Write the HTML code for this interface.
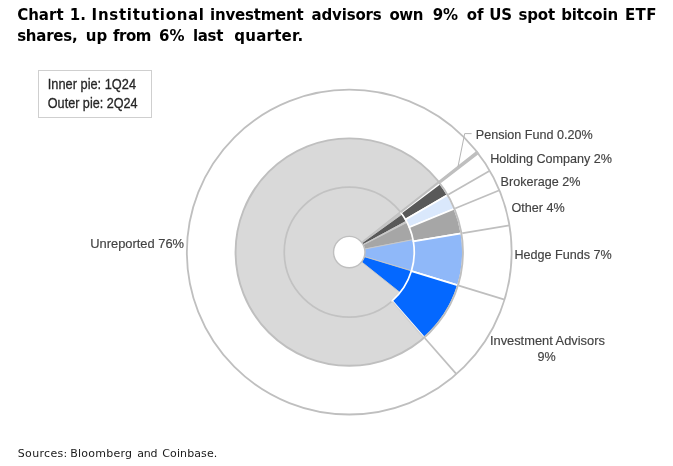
<!DOCTYPE html>
<html><head><meta charset="utf-8"><title>Chart 1</title>
<style>
html,body{margin:0;padding:0;background:#fff;}
body{width:673px;height:466px;position:relative;overflow:hidden;}
p{position:absolute;left:0;margin:0;width:673px;white-space:pre;}
p span{position:absolute;top:0;}
.title{font-family:"DejaVu Sans",Verdana,sans-serif;font-weight:bold;font-size:15px;line-height:20px;height:20px;color:#000;}
.t1{top:5px;}
.t2{top:26px;}
.src{top:446.5px;height:14px;font-family:"DejaVu Sans",Verdana,sans-serif;font-size:11px;line-height:14px;color:#1a1a1a;}
svg{position:absolute;left:0;top:0;}
</style></head><body>
<svg width="673" height="466" viewBox="0 0 673 466">
<circle cx="349.25" cy="252.1" r="162.4" fill="#fff" stroke="#bfbfbf" stroke-width="1.8"/>
<line x1="447.62" y1="195.08" x2="489.75" y2="170.65" stroke="#bfbfbf" stroke-width="1.7"/>
<line x1="454.37" y1="208.77" x2="499.40" y2="190.21" stroke="#bfbfbf" stroke-width="1.7"/>
<line x1="461.41" y1="233.43" x2="509.45" y2="225.44" stroke="#bfbfbf" stroke-width="1.7"/>
<line x1="457.98" y1="285.34" x2="504.55" y2="299.58" stroke="#bfbfbf" stroke-width="1.7"/>
<line x1="424.29" y1="337.52" x2="456.43" y2="374.11" stroke="#bfbfbf" stroke-width="1.7"/>
<path d="M476.87,151.67 A162.4,162.4 0 0 1 478.26,153.46 L439.57,183.04 A113.7,113.7 0 0 0 438.60,181.79 Z" fill="#bfbfbf" stroke="#bfbfbf" stroke-width="1.6"/>
<circle cx="349.25" cy="252.1" r="113.7" fill="#d9d9d9"/>
<circle cx="349.25" cy="252.1" r="65.0" fill="none" stroke="#c2c2c2" stroke-width="1.7"/>
<path d="M400.29,211.85 A65.0,65.0 0 0 1 402.04,214.17 L362.00,242.94 A15.7,15.7 0 0 0 361.58,242.38 Z" fill="#c6c6c6" stroke="#c8c8c8" stroke-width="0.9" stroke-linejoin="round"/>
<path d="M402.04,214.17 A65.0,65.0 0 0 1 406.43,221.18 L363.06,244.63 A15.7,15.7 0 0 0 362.00,242.94 Z" fill="#595959" stroke="#c8c8c8" stroke-width="0.9" stroke-linejoin="round"/>
<path d="M406.43,221.18 A65.0,65.0 0 0 1 407.06,222.39 L363.21,244.92 A15.7,15.7 0 0 0 363.06,244.63 Z" fill="#d0d0d0" stroke="#c8c8c8" stroke-width="0.9" stroke-linejoin="round"/>
<path d="M407.06,222.39 A65.0,65.0 0 0 1 413.06,239.70 L364.66,249.10 A15.7,15.7 0 0 0 363.21,244.92 Z" fill="#a6a6a6" stroke="#c8c8c8" stroke-width="0.9" stroke-linejoin="round"/>
<path d="M413.06,239.70 A65.0,65.0 0 0 1 411.48,270.89 L364.28,256.64 A15.7,15.7 0 0 0 364.66,249.10 Z" fill="#8fb8f9" stroke="#c8c8c8" stroke-width="0.9" stroke-linejoin="round"/>
<path d="M411.48,270.89 A65.0,65.0 0 0 1 400.12,292.56 L361.54,261.87 A15.7,15.7 0 0 0 364.28,256.64 Z" fill="#0468ff" stroke="#c8c8c8" stroke-width="0.9" stroke-linejoin="round"/>
<line x1="361.58" y1="242.38" x2="438.53" y2="181.69" stroke="#c2c2c2" stroke-width="1.2"/>
<path d="M439.94,183.52 A113.7,113.7 0 0 1 447.62,195.08 L405.48,219.50 A65.0,65.0 0 0 0 401.09,212.89 Z" fill="#595959" stroke="#fff" stroke-width="1.7" stroke-linejoin="round"/>
<path d="M447.62,195.08 A113.7,113.7 0 0 1 454.37,208.77 L409.35,227.33 A65.0,65.0 0 0 0 405.48,219.50 Z" fill="#dae8fc" stroke="#fff" stroke-width="1.7" stroke-linejoin="round"/>
<path d="M454.37,208.77 A113.7,113.7 0 0 1 461.41,233.43 L413.37,241.43 A65.0,65.0 0 0 0 409.35,227.33 Z" fill="#a6a6a6" stroke="#fff" stroke-width="1.7" stroke-linejoin="round"/>
<path d="M461.41,233.43 A113.7,113.7 0 0 1 457.98,285.34 L411.41,271.10 A65.0,65.0 0 0 0 413.37,241.43 Z" fill="#8fb8f9" stroke="#fff" stroke-width="1.7" stroke-linejoin="round"/>
<path d="M457.98,285.34 A113.7,113.7 0 0 1 424.29,337.52 L392.15,300.93 A65.0,65.0 0 0 0 411.41,271.10 Z" fill="#0468ff" stroke="#fff" stroke-width="1.7" stroke-linejoin="round"/>
<line x1="400.58" y1="212.22" x2="439.03" y2="182.33" stroke="#bfbfbf" stroke-width="1.7"/>
<line x1="392.24" y1="301.65" x2="423.77" y2="337.98" stroke="#d0d0d0" stroke-width="1.4"/>
<circle cx="349.25" cy="252.1" r="113.7" fill="none" stroke="#bfbfbf" stroke-width="1.9"/>
<circle cx="349.25" cy="252.1" r="15.7" fill="#fff" stroke="#bfbfbf" stroke-width="1.4"/>
<polyline points="471.6,133.6 464.7,133.6 458,166.6" fill="none" stroke="#b5b5b5" stroke-width="1"/>
<g font-family="'Liberation Sans', Arial, sans-serif" fill="#424242" stroke="#424242" stroke-width="0.15">
<text x="475.8" y="138.7" text-anchor="start" font-size="12.6" >Pension Fund 0.20%</text>
<text x="490.2" y="162.9" text-anchor="start" font-size="12.6" >Holding Company 2%</text>
<text x="500.6" y="185.5" text-anchor="start" font-size="12.6" >Brokerage 2%</text>
<text x="511.4" y="212.3" text-anchor="start" font-size="12.6" >Other 4%</text>
<text x="514.4" y="258.7" text-anchor="start" font-size="12.6" >Hedge Funds 7%</text>
<text x="547.4" y="345.3" text-anchor="middle" font-size="12.85" >Investment Advisors</text>
<text x="546.7" y="361.0" text-anchor="middle" font-size="12.6" >9%</text>
<text x="90.2" y="247.8" text-anchor="start" font-size="12.9" >Unreported 76%</text>
</g>
<rect x="38.5" y="70.5" width="113" height="47" fill="#fff" stroke="#cfcfcf" stroke-width="1"/>
<g font-family="'Liberation Sans', Arial, sans-serif" fill="#262626" stroke="#262626" stroke-width="0.3" font-size="14.7">
<text x="47.8" y="89.4" textLength="88.2" lengthAdjust="spacingAndGlyphs">Inner pie: 1Q24</text>
<text x="47.8" y="107.7" textLength="89.8" lengthAdjust="spacingAndGlyphs">Outer pie: 2Q24</text>
</g>
</svg>
<p class="title t1"><span style="left:17.20px;letter-spacing:0.000px">Chart </span><span style="left:69.75px;letter-spacing:0.000px">1. </span><span style="left:91.60px;letter-spacing:0.708px">Institutional </span><span style="left:210.00px;letter-spacing:-0.200px">investment </span><span style="left:311.50px;letter-spacing:-0.157px">advisors </span><span style="left:389.55px;letter-spacing:-0.500px">own </span><span style="left:432.70px;letter-spacing:0.000px">9% </span><span style="left:466.80px;letter-spacing:0.000px">of </span><span style="left:489.15px;letter-spacing:0.000px">US </span><span style="left:518.50px;letter-spacing:-0.167px">spot </span><span style="left:561.30px;letter-spacing:-0.217px">bitcoin </span><span style="left:625.00px;letter-spacing:0.350px">ETF</span></p>
<p class="title t2"><span style="left:17.20px;letter-spacing:-0.250px">shares, </span><span style="left:85.80px;letter-spacing:0.000px">up </span><span style="left:113.10px;letter-spacing:-0.500px">from </span><span style="left:159.10px;letter-spacing:0.000px">6% </span><span style="left:193.10px;letter-spacing:-0.367px">last </span><span style="left:234.30px;letter-spacing:0.229px">quarter.</span></p>
<p class="src"><span style="left:17.80px;letter-spacing:0.314px">Sources: </span><span style="left:70.30px;letter-spacing:0.237px">Bloomberg </span><span style="left:137.30px;letter-spacing:-0.200px">and </span><span style="left:162.30px;letter-spacing:0.100px">Coinbase.</span></p>
</body></html>
